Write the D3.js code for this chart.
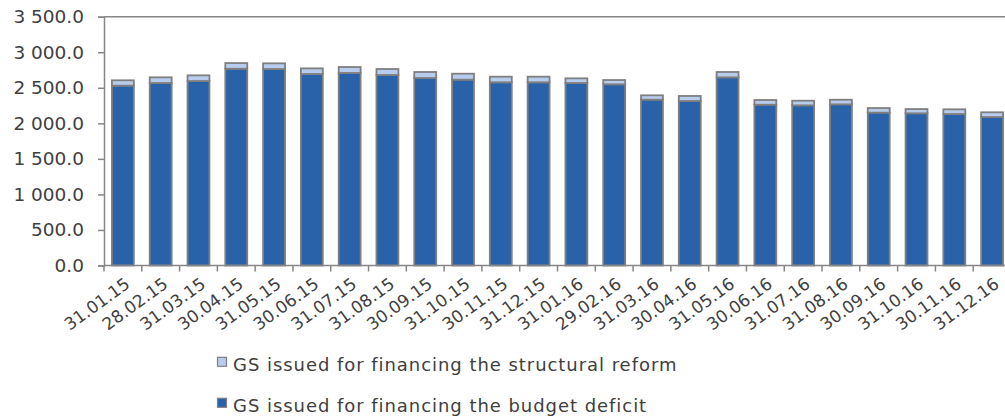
<!DOCTYPE html>
<html>
<head>
<meta charset="utf-8">
<script src="https://cdn.jsdelivr.net/npm/d3@7"></script>
<style>
  html, body { margin: 0; padding: 0; background: #fff; }
  svg { display: block; }
  text { font-family: "DejaVu Sans", sans-serif; fill: #404040; }
</style>
</head>
<body>
<svg id="chart" width="1005" height="417"></svg>
<script>
// Month-end dates
const dates = ["31.01.15","28.02.15","31.03.15","30.04.15","31.05.15","30.06.15",
  "31.07.15","31.08.15","30.09.15","31.10.15","30.11.15","31.12.15",
  "31.01.16","29.02.16","31.03.16","30.04.16","31.05.16","30.06.16",
  "31.07.16","31.08.16","30.09.16","31.10.16","30.11.16","31.12.16"];

// GS issued for financing the budget deficit
const deficit = [2530, 2567, 2595, 2768, 2764, 2694, 2708, 2680, 2638, 2614, 2577, 2577,
  2567, 2549, 2333, 2314, 2647, 2262, 2253, 2267, 2150, 2141, 2131, 2089];

// GS issued for financing the structural reform
const reform = [75, 80, 80, 80, 80, 79, 84, 84, 84, 84, 79, 79,
  66, 60, 61, 71, 75, 66, 65, 65, 65, 60, 66, 66];

const yTicks = [0, 500, 1000, 1500, 2000, 2500, 3000, 3500];

const seriesNames = ["GS issued for financing the structural reform",
  "GS issued for financing the budget deficit"];

const colDeficit = "#2a62a9";
const colReform = "#b8cdee";
const colEdge = "#7f7f7f";
const colAxis = "#868686";

const svg = d3.select("#chart");
const plotLeft = 104, plotRight = 1011, plotTop = 16.7, plotBottom = 265.5;

const x = d3.scaleBand().domain(dates).range([plotLeft, plotRight]).paddingInner(0.42).paddingOuter(0.21);
const y = d3.scaleLinear().domain([0, 3500]).range([plotBottom, plotTop]);

const rows = dates.map((d, i) => ({ date: d, deficit: deficit[i], reform: reform[i] }));
const stack = d3.stack().keys(["deficit", "reform"])(rows);
const colors = { deficit: colDeficit, reform: colReform };

// top border line at 3500
svg.append("line")
  .attr("x1", plotLeft).attr("x2", plotRight)
  .attr("y1", y(3500)).attr("y2", y(3500))
  .attr("stroke", colAxis).attr("stroke-width", 1.5);

// stacked bars
svg.append("g").selectAll("g").data(stack).join("g")
  .attr("fill", s => colors[s.key])
  .selectAll("rect").data(s => s).join("rect")
  .attr("x", d => x(d.data.date))
  .attr("width", x.bandwidth())
  .attr("y", d => y(d[1]))
  .attr("height", d => y(d[0]) - y(d[1]))
  .attr("stroke", colEdge).attr("stroke-width", 1.8);

// y axis
const yAxis = svg.append("g").attr("transform", `translate(${plotLeft},0)`)
  .call(d3.axisLeft(y).tickValues(yTicks).tickSize(6).tickPadding(14)
    .tickFormat(v => d3.format(",.1f")(v).replace(/,/g, " ")));
yAxis.select(".domain").attr("stroke", colAxis).attr("stroke-width", 1.5);
yAxis.selectAll(".tick line").attr("stroke", colAxis).attr("stroke-width", 1.5);
yAxis.selectAll("text").attr("font-size", 18.5).attr("fill", "#404040")
  .attr("font-family", "DejaVu Sans");

// x axis with ticks on band boundaries
const xAxis = svg.append("g").attr("transform", `translate(0,${plotBottom})`);
xAxis.append("line").attr("x1", plotLeft).attr("x2", plotRight).attr("y1", 0).attr("y2", 0)
  .attr("stroke", colAxis).attr("stroke-width", 1.5);
const step = x.step();
xAxis.selectAll("line.tk").data(d3.range(dates.length + 1)).join("line")
  .attr("class", "tk")
  .attr("x1", i => plotLeft + i * step).attr("x2", i => plotLeft + i * step)
  .attr("y1", 0).attr("y2", 6)
  .attr("stroke", colAxis).attr("stroke-width", 1.5);
xAxis.selectAll("text").data(dates).join("text")
  .attr("text-anchor", "end")
  .attr("font-size", 17)
  .attr("dy", "0.72em")
  .attr("transform", d => `translate(${x(d) + x.bandwidth() / 2 + 1},${11}) rotate(-36)`)
  .text(d => d);

// legend
const legend = svg.append("g");
const legendItems = [
  { name: seriesNames[0], color: colReform, y: 371 },
  { name: seriesNames[1], color: colDeficit, y: 412 }
];
legend.selectAll("rect").data(legendItems).join("rect")
  .attr("x", 217.5).attr("y", d => d.y - 13.7)
  .attr("width", 9).attr("height", 9)
  .attr("fill", d => d.color).attr("stroke", colEdge).attr("stroke-width", 1.2);
legend.selectAll("text").data(legendItems).join("text")
  .attr("x", 233).attr("y", d => d.y)
  .attr("font-size", 18)
  .attr("letter-spacing", 0.95)
  .text(d => d.name);
</script>
</body>
</html>
